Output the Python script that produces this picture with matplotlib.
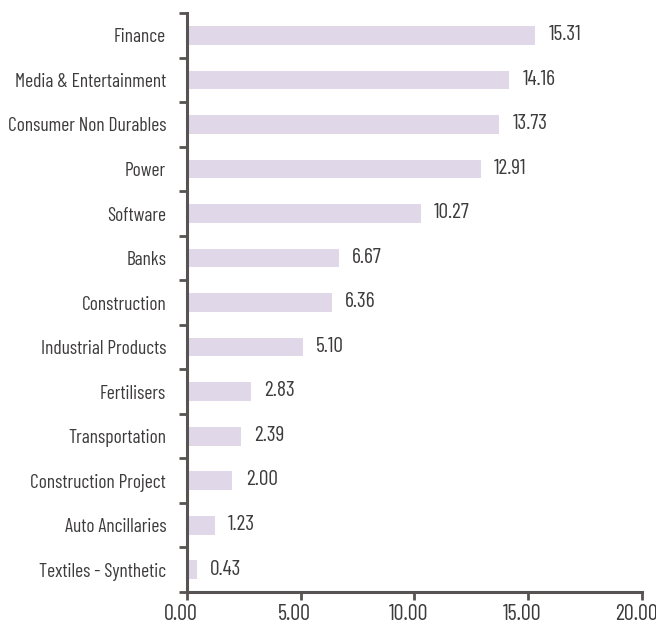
import matplotlib
matplotlib.use("Agg")
import matplotlib.pyplot as plt
import numpy as np

plt.rcParams['font.family'] = ['Barlow Condensed', 'DejaVu Sans']
plt.rcParams['font.weight'] = 400

sectors = [
    "Finance", "Media & Entertainment", "Consumer Non Durables", "Power",
    "Software", "Banks", "Construction", "Industrial Products", "Fertilisers",
    "Transportation", "Construction Project", "Auto Ancillaries",
    "Textiles - Synthetic",
]
weights = [15.31, 14.16, 13.73, 12.91, 10.27, 6.67, 6.36, 5.10, 2.83,
           2.39, 2.00, 1.23, 0.43]
x_ticks = [0, 5, 10, 15, 20]

bar_color = "#e0d7e9"
axis_color = "#575352"
text_color = "#3d3b3b"

fig = plt.figure(figsize=(6.56, 6.25), dpi=100)
ax = fig.add_axes([0.285, 0.0528, 0.6937, 0.9262])

n = len(sectors)
ypos = np.arange(n)[::-1]
ax.barh(ypos, weights, height=0.42, color=bar_color, zorder=2)

for y, v in zip(ypos, weights):
    ax.annotate(f"{v:.2f}", xy=(v, y), xytext=(9.5, 0.5), textcoords="offset points",
                va="center", ha="left", fontsize=15.5, color=text_color)

ax.set_xlim(0, 20)
ax.set_ylim(-0.5, n - 0.5)
ax.set_xticks(x_ticks)
ax.set_xticklabels([])
# x tick labels, nudged slightly left of their ticks
for t in x_ticks:
    ax.annotate(f"{t:.2f}", xy=(t, 0), xycoords=("data", "axes fraction"),
                xytext=(-4.3, -20.2), textcoords="offset points",
                ha="center", va="baseline", fontsize=16, color=text_color,
                annotation_clip=False)

# category boundaries carry the tick marks, centres carry the labels
ax.set_yticks(np.arange(-0.5, n, 1.0))
ax.set_yticklabels([])
ax.set_yticks(ypos, minor=True)
ax.set_yticklabels(sectors, minor=True, fontsize=14, color=text_color)
ax.tick_params(axis="y", which="minor", length=0, pad=15)
ax.tick_params(axis="y", which="major", length=6, width=2, color=axis_color)
ax.tick_params(axis="x", length=6, width=2, color=axis_color)

for s in ("top", "right"):
    ax.spines[s].set_visible(False)
for s in ("left", "bottom"):
    ax.spines[s].set_color(axis_color)
    ax.spines[s].set_linewidth(2.2)

fig.savefig("out.png", dpi=100)
